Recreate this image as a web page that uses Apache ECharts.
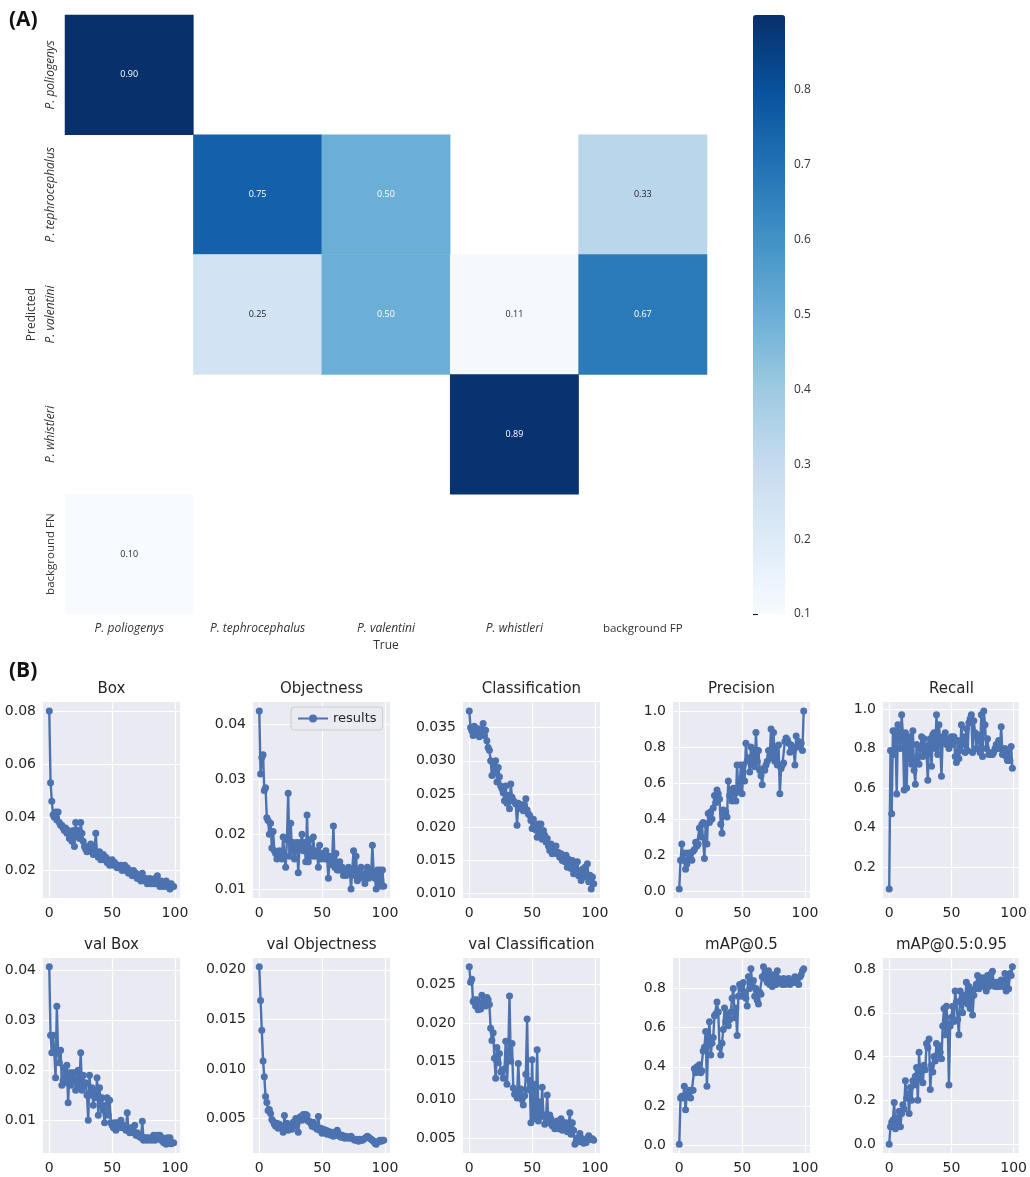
<!DOCTYPE html>
<html>
 <head>
  <meta charset="utf-8" />
  <title>Confusion matrix and training curves</title>
  <script src="https://cdn.jsdelivr.net/npm/echarts@6/dist/echarts.min.js"></script>
 </head>
 <body style="margin:0;background:#fff;">
  <div id="main" style="width:1030px;height:1177px;"></div>
  <script type="text/javascript">

    // ---- confusion matrix (A) ----
    var trueLabels = ['P. poliogenys', 'P. tephrocephalus', 'P. valentini', 'P. whistleri', 'background FP'];
    var predLabels = ['P. poliogenys', 'P. tephrocephalus', 'P. valentini', 'P. whistleri', 'background FN'];
    // rows = predicted, cols = true
    var matrix = [
        [0.90, 0,    0,    0,    0   ],
        [0,    0.75, 0.50, 0,    0.33],
        [0,    0.25, 0.50, 0.11, 0.67],
        [0,    0,    0,    0.89, 0   ],
        [0.10, 0,    0,    0,    0   ]
    ];
    var colorbarTicks = [0.1, 0.2, 0.3, 0.4, 0.5, 0.6, 0.7, 0.8];

    // ---- training curves (B) ----
    var titles = ['Box', 'Objectness', 'Classification', 'Precision', 'Recall',
                  'val Box', 'val Objectness', 'val Classification', 'mAP@0.5', 'mAP@0.5:0.95'];

    var box = [0.080,0.053,0.046,0.041,0.040,0.042,0.039,0.042,0.038,0.037,
               0.037,0.036,0.035,0.036,0.034,0.035,0.032,0.033,0.031,0.035,
               0.029,0.038,0.033,0.035,0.032,0.038,0.034,0.031,0.029,0.028,
               0.027,0.029,0.028,0.030,0.027,0.026,0.028,0.034,0.026,0.025,
               0.027,0.024,0.025,0.026,0.024,0.025,0.023,0.024,0.022,0.023,
               0.024,0.022,0.023,0.022,0.021,0.022,0.021,0.022,0.020,0.021,
               0.022,0.020,0.021,0.019,0.020,0.019,0.018,0.020,0.018,0.019,
               0.017,0.018,0.017,0.016,0.019,0.017,0.016,0.017,0.015,0.016,
               0.017,0.015,0.016,0.015,0.017,0.015,0.018,0.016,0.014,0.016,
               0.015,0.014,0.015,0.016,0.014,0.015,0.013,0.015,0.014,0.014];
    var objectness = [0.0425,0.0310,0.0340,0.0345,0.0280,0.0285,0.0230,0.0225,0.0200,0.0220,
               0.0175,0.0205,0.0170,0.0165,0.0155,0.0160,0.0170,0.0165,0.0155,0.0195,
               0.0160,0.0140,0.0190,0.0275,0.0160,0.0220,0.0170,0.0185,0.0155,0.0175,
               0.0185,0.0130,0.0180,0.0185,0.0200,0.0170,0.0185,0.0150,0.0235,0.0150,
               0.0190,0.0160,0.0170,0.0195,0.0160,0.0170,0.0165,0.0140,0.0180,0.0155,
               0.0165,0.0160,0.0155,0.0170,0.0155,0.0120,0.0160,0.0145,0.0155,0.0215,
               0.0140,0.0165,0.0135,0.0135,0.0150,0.0135,0.0140,0.0125,0.0135,0.0125,
               0.0130,0.0140,0.0135,0.0100,0.0135,0.0170,0.0125,0.0160,0.0115,0.0135,
               0.0120,0.0140,0.0125,0.0125,0.0110,0.0130,0.0140,0.0120,0.0135,0.0125,
               0.0180,0.0130,0.0120,0.0100,0.0135,0.0110,0.0135,0.0105,0.0135,0.0105];
    var classification = [0.0375,0.0350,0.0345,0.0338,0.0352,0.0342,0.0340,0.0348,0.0336,0.0345,
               0.0342,0.0356,0.0338,0.0346,0.0330,0.0320,0.0316,0.0300,0.0278,0.0296,
               0.0282,0.0300,0.0268,0.0290,0.0276,0.0262,0.0258,0.0252,0.0240,0.0262,
               0.0236,0.0248,0.0228,0.0265,0.0245,0.0240,0.0238,0.0235,0.0203,0.0236,
               0.0232,0.0228,0.0234,0.0225,0.0232,0.0243,0.0226,0.0220,0.0218,0.0210,
               0.0198,0.0212,0.0202,0.0196,0.0185,0.0205,0.0190,0.0205,0.0182,0.0195,
               0.0188,0.0178,0.0183,0.0172,0.0165,0.0175,0.0160,0.0170,0.0165,0.0172,
               0.0160,0.0162,0.0155,0.0160,0.0150,0.0155,0.0148,0.0158,0.0140,0.0152,
               0.0145,0.0138,0.0150,0.0130,0.0142,0.0135,0.0148,0.0127,0.0133,0.0120,
               0.0137,0.0125,0.0140,0.0130,0.0145,0.0118,0.0128,0.0107,0.0125,0.0115];
    var precision = [0.01,0.17,0.26,0.17,0.21,0.12,0.15,0.21,0.18,0.21,
               0.17,0.22,0.23,0.27,0.25,0.26,0.35,0.30,0.37,0.38,
               0.18,0.37,0.26,0.43,0.38,0.44,0.40,0.46,0.53,0.49,
               0.56,0.54,0.51,0.37,0.32,0.45,0.42,0.44,0.41,0.61,
               0.53,0.55,0.50,0.57,0.54,0.50,0.70,0.55,0.58,0.70,
               0.54,0.70,0.61,0.82,0.72,0.74,0.66,0.80,0.70,0.78,
               0.69,0.88,0.72,0.78,0.67,0.64,0.59,0.68,0.67,0.70,
               0.72,0.78,0.75,0.90,0.74,0.88,0.72,0.80,0.70,0.81,
               0.54,0.68,0.70,0.71,0.83,0.85,0.84,0.82,0.77,0.81,
               0.80,0.78,0.70,0.86,0.80,0.83,0.80,0.82,0.78,1.00];
    var recall = [0.09,0.79,0.47,0.89,0.77,0.89,0.57,0.92,0.88,0.80,
               0.97,0.87,0.59,0.88,0.60,0.86,0.75,0.86,0.72,0.89,
               0.69,0.62,0.82,0.76,0.72,0.80,0.86,0.76,0.85,0.80,
               0.78,0.64,0.82,0.85,0.71,0.87,0.88,0.80,0.97,0.77,
               0.92,0.83,0.66,0.86,0.85,0.88,0.82,0.85,0.80,0.83,
               0.86,0.82,0.86,0.76,0.73,0.84,0.75,0.79,0.92,0.82,
               0.86,0.78,0.90,0.79,0.93,0.95,0.97,0.78,0.94,0.88,
               0.80,0.87,0.85,0.78,0.97,0.76,0.99,0.92,0.80,0.85,
               0.77,0.78,0.77,0.77,0.78,0.80,0.82,0.80,0.84,0.80,
               0.91,0.77,0.79,0.80,0.76,0.74,0.78,0.74,0.81,0.70];
    var valBox = [0.0407,0.0270,0.0235,0.0270,0.0235,0.0185,0.0328,0.0235,0.0215,0.0240,
               0.0170,0.0180,0.0205,0.0175,0.0210,0.0135,0.0195,0.0170,0.0195,0.0180,
               0.0195,0.0160,0.0180,0.0200,0.0170,0.0235,0.0160,0.0190,0.0170,0.0175,
               0.0150,0.0100,0.0190,0.0150,0.0165,0.0130,0.0160,0.0145,0.0185,0.0110,
               0.0165,0.0130,0.0145,0.0120,0.0095,0.0130,0.0145,0.0110,0.0140,0.0095,
               0.0090,0.0085,0.0095,0.0080,0.0095,0.0085,0.0090,0.0100,0.0085,0.0090,
               0.0085,0.0080,0.0115,0.0080,0.0075,0.0085,0.0080,0.0075,0.0090,0.0070,
               0.0075,0.0068,0.0070,0.0065,0.0098,0.0060,0.0065,0.0065,0.0060,0.0065,
               0.0062,0.0060,0.0065,0.0070,0.0060,0.0065,0.0070,0.0065,0.0070,0.0060,
               0.0065,0.0055,0.0060,0.0052,0.0065,0.0055,0.0065,0.0053,0.0055,0.0055];
    var valObjectness = [0.0203,0.0169,0.0139,0.0108,0.0092,0.0072,0.0066,0.0058,0.0059,0.0055,
               0.0049,0.0047,0.0044,0.0042,0.0045,0.0040,0.0044,0.0042,0.0041,0.0036,
               0.0053,0.0039,0.0045,0.0038,0.0040,0.0042,0.0039,0.0046,0.0042,0.0050,
               0.0044,0.0036,0.0051,0.0052,0.0048,0.0054,0.0050,0.0054,0.0053,0.0047,
               0.0047,0.0045,0.0042,0.0046,0.0041,0.0043,0.0039,0.0052,0.0038,0.0040,
               0.0035,0.0039,0.0037,0.0038,0.0034,0.0037,0.0036,0.0033,0.0036,0.0032,
               0.0034,0.0033,0.0038,0.0035,0.0032,0.0031,0.0033,0.0031,0.0030,0.0032,
               0.0031,0.0030,0.0031,0.0032,0.0030,0.0029,0.0028,0.0029,0.0028,0.0027,
               0.0029,0.0028,0.0028,0.0029,0.0030,0.0031,0.0032,0.0031,0.0030,0.0029,
               0.0028,0.0027,0.0025,0.0024,0.0026,0.0027,0.0028,0.0027,0.0028,0.0028];
    var valClassification = [0.0273,0.0253,0.0257,0.0228,0.0230,0.0222,0.0230,0.0217,0.0225,0.0218,
               0.0236,0.0225,0.0232,0.0222,0.0233,0.0230,0.0224,0.0193,0.0177,0.0187,
               0.0154,0.0128,0.0168,0.0148,0.0160,0.0136,0.0138,0.0128,0.0140,0.0176,
               0.0120,0.0160,0.0235,0.0150,0.0173,0.0115,0.0107,0.0110,0.0102,0.0147,
               0.0108,0.0114,0.0100,0.0093,0.0105,0.0133,0.0205,0.0113,0.0125,0.0070,
               0.0152,0.0075,0.0120,0.0080,0.0165,0.0072,0.0097,0.0078,0.0116,0.0080,
               0.0068,0.0078,0.0106,0.0070,0.0080,0.0075,0.0066,0.0070,0.0062,0.0068,
               0.0072,0.0062,0.0066,0.0075,0.0060,0.0070,0.0062,0.0070,0.0058,0.0065,
               0.0083,0.0055,0.0070,0.0060,0.0042,0.0045,0.0050,0.0045,0.0056,0.0050,
               0.0045,0.0043,0.0046,0.0044,0.0050,0.0053,0.0050,0.0048,0.0049,0.0047];
    var map50 = [0.005,0.24,0.25,0.24,0.30,0.18,0.26,0.25,0.28,0.24,
               0.28,0.28,0.39,0.37,0.40,0.38,0.41,0.37,0.38,0.48,
               0.50,0.58,0.30,0.55,0.63,0.46,0.52,0.55,0.66,0.67,
               0.73,0.68,0.50,0.46,0.52,0.59,0.70,0.63,0.67,0.61,
               0.64,0.68,0.75,0.80,0.65,0.70,0.56,0.76,0.82,0.80,
               0.76,0.83,0.78,0.75,0.71,0.86,0.80,0.90,0.82,0.84,
               0.76,0.80,0.74,0.72,0.78,0.77,0.86,0.91,0.85,0.88,
               0.83,0.89,0.82,0.86,0.81,0.87,0.84,0.82,0.89,0.85,
               0.83,0.84,0.82,0.85,0.82,0.84,0.83,0.85,0.82,0.84,
               0.83,0.84,0.86,0.83,0.85,0.82,0.86,0.87,0.89,0.90];
    var map5095 = [0.00,0.08,0.10,0.11,0.19,0.07,0.12,0.10,0.15,0.08,
               0.14,0.18,0.16,0.29,0.21,0.23,0.14,0.26,0.20,0.29,
               0.27,0.31,0.35,0.20,0.42,0.30,0.35,0.28,0.36,0.34,
               0.46,0.44,0.48,0.25,0.36,0.33,0.40,0.38,0.46,0.41,
               0.45,0.42,0.39,0.54,0.62,0.50,0.63,0.55,0.27,0.54,
               0.58,0.63,0.56,0.70,0.65,0.57,0.50,0.70,0.66,0.60,
               0.68,0.65,0.74,0.64,0.72,0.62,0.70,0.59,0.68,0.71,
               0.73,0.77,0.71,0.75,0.73,0.76,0.72,0.74,0.70,0.77,
               0.72,0.75,0.78,0.79,0.73,0.72,0.74,0.72,0.73,0.72,
               0.75,0.74,0.72,0.78,0.70,0.76,0.71,0.78,0.77,0.81];

    var curves = [box, objectness, classification, precision, recall,
                  valBox, valObjectness, valClassification, map50, map5095];
    // y ticks per panel
    var yTicks = [
        [0.02, 0.04, 0.06, 0.08],
        [0.01, 0.02, 0.03, 0.04],
        [0.010, 0.015, 0.020, 0.025, 0.030, 0.035],
        [0.0, 0.2, 0.4, 0.6, 0.8, 1.0],
        [0.2, 0.4, 0.6, 0.8, 1.0],
        [0.01, 0.02, 0.03, 0.04],
        [0.005, 0.010, 0.015, 0.020],
        [0.005, 0.010, 0.015, 0.020, 0.025],
        [0.0, 0.2, 0.4, 0.6, 0.8],
        [0.0, 0.2, 0.4, 0.6, 0.8]
    ];
    var yDecimals = [2, 2, 3, 1, 1, 2, 3, 3, 1, 1];
    var xTicks = [0, 50, 100];

    var myChart = echarts.init(document.getElementById('main'));

    var blues = ['#f7fbff', '#deebf7', '#c6dbef', '#9ecae1', '#6baed6', '#4292c6', '#2171b5', '#08519c', '#08306b'];
    var lineColor = '#4c72b0';
    var tickFont = 'DejaVu Sans';
    var cmFont = 'Open Sans';

    // heatmap cells (skip empty ones, seaborn leaves them blank)
    var cells = [];
    for (var r = 0; r < matrix.length; r++) {
        for (var c = 0; c < matrix[r].length; c++) {
            var v = matrix[r][c];
            if (v > 0) {
                cells.push({
                    value: [c, r, v],
                    label: { color: v > 0.45 ? '#ffffff' : '#262626' }
                });
            }
        }
    }

    var labelFmt = function (v) { return v.indexOf('P.') === 0 ? '{i|' + v + '}' : '{n|' + v + '}'; };
    var labelRich = {
        i: { fontStyle: 'italic', fontSize: 12, color: '#333', fontFamily: cmFont },
        n: { fontSize: 11.5, color: '#333', fontFamily: cmFont }
    };

    var grids = [{ left: 65, top: 15, width: 642, height: 599 }];
    var xAxes = [{
        type: 'category', gridIndex: 0, data: trueLabels,
        axisLine: { show: false }, axisTick: { show: false }, splitLine: { show: false },
        axisLabel: { interval: 0, margin: 9, formatter: labelFmt, rich: labelRich },
        name: 'True', nameLocation: 'middle', nameGap: 25,
        nameTextStyle: { fontSize: 12, color: '#333', fontFamily: cmFont }
    }];
    var yAxes = [{
        type: 'category', gridIndex: 0, data: predLabels, inverse: true,
        axisLine: { show: false }, axisTick: { show: false }, splitLine: { show: false },
        axisLabel: { interval: 0, rotate: 90, margin: 8, formatter: labelFmt, rich: labelRich },
        name: 'Predicted', nameLocation: 'middle', nameGap: 26,
        nameTextStyle: { fontSize: 12, color: '#333', fontFamily: cmFont }
    }];
    var series = [{
        type: 'heatmap', xAxisIndex: 0, yAxisIndex: 0, data: cells,
        label: { show: true, fontSize: 9, fontFamily: cmFont,
                 formatter: function (p) { return p.value[2].toFixed(2); } },
        itemStyle: { borderWidth: 0 },
        emphasis: { disabled: true }
    }];

    var graphics = [
        { type: 'text', x: 9, y: 10, style: { text: '(A)', fontSize: 21, fontWeight: 'bold', fontFamily: 'Open Sans', fill: '#111' } },
        { type: 'text', x: 9, y: 661, style: { text: '(B)', fontSize: 21, fontWeight: 'bold', fontFamily: 'Open Sans', fill: '#111' } }
    ];

    var plotW = 137;
    curves.forEach(function (vals, k) {
        var col = k % 5, row = Math.floor(k / 5);
        var gLeft = 43 + col * 210;
        var gTop = row === 0 ? 702 : 958;
        var gH = row === 0 ? 196 : 195;
        var ymin = Math.min.apply(null, vals), ymax = Math.max.apply(null, vals);
        var pad = (ymax - ymin) * 0.05;
        var gi = k + 1;
        var dec = yDecimals[k];
        grids.push({ left: gLeft, top: gTop, width: plotW, height: gH, show: true,
                     backgroundColor: '#eaeaf2', borderWidth: 0 });
        xAxes.push({
            type: 'value', gridIndex: gi, min: -5, max: 104,
            axisLine: { show: false },
            axisTick: { show: false, customValues: xTicks },
            axisLabel: { customValues: xTicks, margin: 8, fontSize: 14, color: '#262626', fontFamily: tickFont },
            splitLine: { show: true, lineStyle: { color: '#ffffff', width: 1.2 } }
        });
        yAxes.push({
            type: 'value', gridIndex: gi, min: ymin - pad, max: ymax + pad,
            axisLine: { show: false },
            axisTick: { show: false, customValues: yTicks[k] },
            axisLabel: { customValues: yTicks[k], margin: 7, fontSize: 14, color: '#262626', fontFamily: tickFont,
                         formatter: function (t) { return t.toFixed(dec); } },
            splitLine: { show: true, lineStyle: { color: '#ffffff', width: 1.2 } }
        });
        var pts = vals.map(function (y, i) { return [i, y]; });
        series.push({
            type: 'line', name: k === 1 ? 'results' : titles[k], xAxisIndex: gi, yAxisIndex: gi,
            data: pts, symbol: 'circle', symbolSize: 7, showSymbol: true,
            lineStyle: { color: lineColor, width: 2.4 }, itemStyle: { color: lineColor },
            emphasis: { disabled: true }, z: 3
        });
        graphics.push({
            type: 'text', x: gLeft + plotW / 2, y: gTop - 13,
            style: { text: titles[k], fontSize: 15, fontFamily: tickFont, fill: '#262626',
                     align: 'center', verticalAlign: 'middle' }
        });
    });

    // colorbar axis
    grids.push({ left: 753, top: 15, width: 32, height: 599, show: false });
    xAxes.push({ type: 'value', gridIndex: 11, show: false, min: 0, max: 1 });
    yAxes.push({
        type: 'value', gridIndex: 11, position: 'right', min: 0.1, max: 0.9,
        axisLine: { show: false },
        axisTick: { show: true, length: 5, inside: false, customValues: colorbarTicks, lineStyle: { color: '#222', width: 1.2 } },
        axisLabel: { customValues: colorbarTicks, margin: 9, fontSize: 12, color: '#333', fontFamily: cmFont,
                     formatter: function (t) { return t.toFixed(1); } },
        splitLine: { show: false }
    });

    myChart.setOption({
        animation: false,
        backgroundColor: '#ffffff',
        grid: grids,
        xAxis: xAxes,
        yAxis: yAxes,
        visualMap: {
            type: 'continuous', min: 0.1, max: 0.9, seriesIndex: 0,
            orient: 'vertical', left: 753, top: 15, itemWidth: 32, itemHeight: 599,
            calculable: false, hoverLink: false, padding: 0, inRange: { color: blues }
        },
        legend: {
            data: ['results'], left: 291, top: 707,
            backgroundColor: 'rgba(234,234,242,0.85)', borderColor: '#cccccc', borderWidth: 1,
            borderRadius: 3, padding: [5, 6], itemWidth: 30, itemHeight: 10,
            textStyle: { fontSize: 13, color: '#262626', fontFamily: tickFont }
        },
        graphic: graphics,
        series: series
    });
</script>
 </body>
</html>
